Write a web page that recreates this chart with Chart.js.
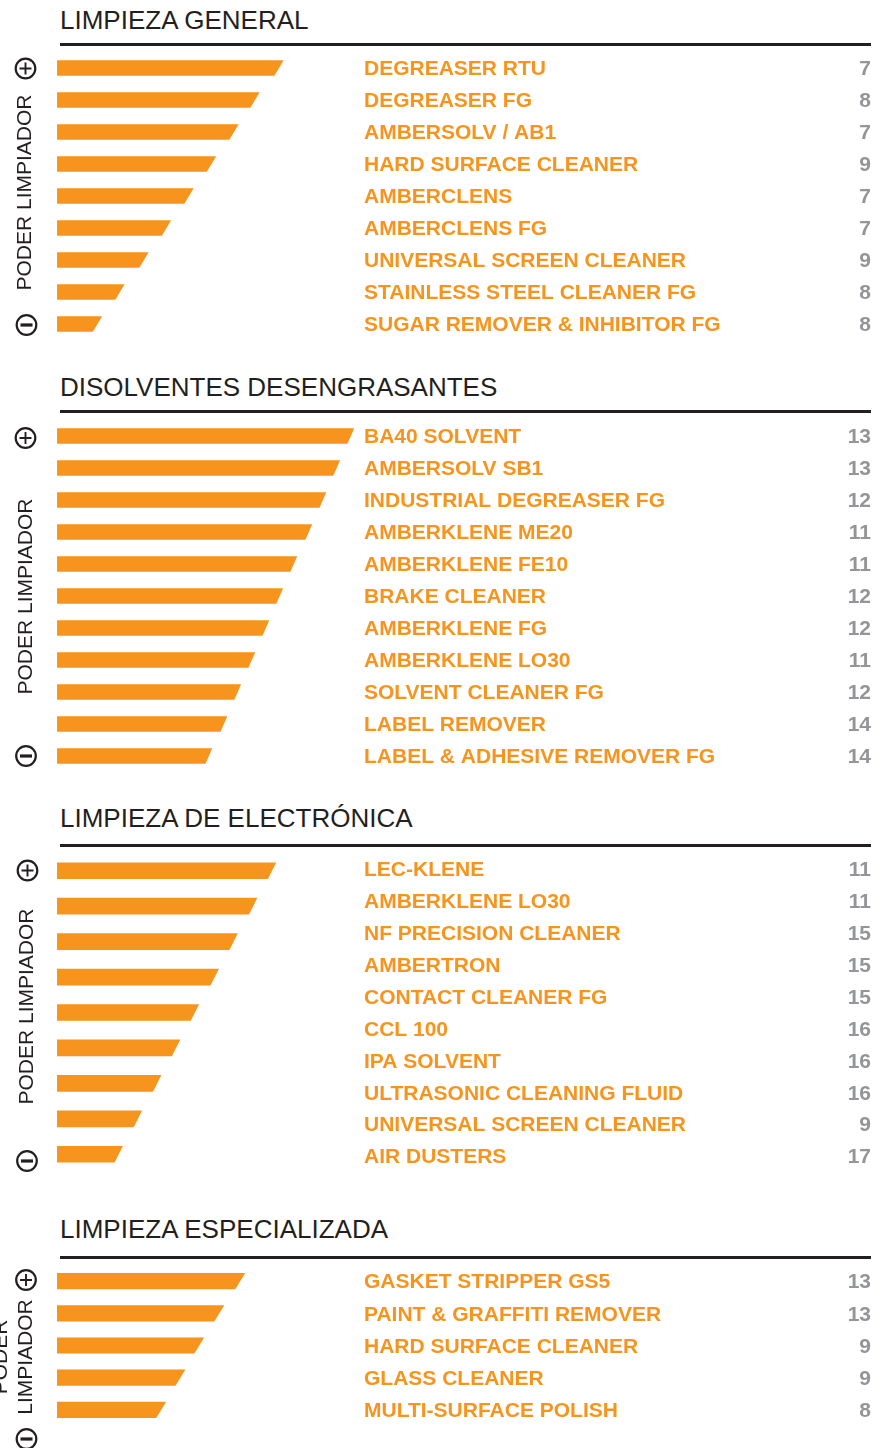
<!DOCTYPE html>
<html>
<head>
<meta charset="utf-8">
<script src="https://cdn.jsdelivr.net/npm/chart.js@4"></script>
<style>
  html, body { margin: 0; padding: 0; background: #fff; }
  body { width: 882px; height: 1448px; position: relative; overflow: hidden; font-family: "Liberation Sans", Arial, Helvetica, sans-serif; }
  .title { position: absolute; left: 60px; font-size: 26px; line-height: 26px; color: #231f20; white-space: nowrap; }
  .rule { position: absolute; left: 60px; width: 811px; height: 3px; background: #231f20; }
  canvas { position: absolute; left: 0; }
</style>
</head>
<body>
<div class="title" style="top:6.5px">LIMPIEZA GENERAL</div>
<div class="rule" style="top:43px"></div>
<canvas id="c1"></canvas>

<div class="title" style="top:373.5px">DISOLVENTES DESENGRASANTES</div>
<div class="rule" style="top:410px"></div>
<canvas id="c2"></canvas>

<div class="title" style="top:804.5px">LIMPIEZA DE ELECTRÓNICA</div>
<div class="rule" style="top:844px"></div>
<canvas id="c3"></canvas>

<div class="title" style="top:1215.5px">LIMPIEZA ESPECIALIZADA</div>
<div class="rule" style="top:1256px"></div>
<canvas id="c4"></canvas>

<script>
// --- data ---
const generalNames = ['DEGREASER RTU', 'DEGREASER FG', 'AMBERSOLV / AB1', 'HARD SURFACE CLEANER', 'AMBERCLENS',
  'AMBERCLENS FG', 'UNIVERSAL SCREEN CLEANER', 'STAINLESS STEEL CLEANER FG', 'SUGAR REMOVER & INHIBITOR FG'];
const generalScores = [7, 8, 7, 9, 7, 7, 9, 8, 8];
const generalPower = [75.5, 67.5, 60.5, 53, 45.5, 38, 30.5, 22.5, 15];

const solventNames = ['BA40 SOLVENT', 'AMBERSOLV SB1', 'INDUSTRIAL DEGREASER FG', 'AMBERKLENE ME20', 'AMBERKLENE FE10',
  'BRAKE CLEANER', 'AMBERKLENE FG', 'AMBERKLENE LO30', 'SOLVENT CLEANER FG', 'LABEL REMOVER', 'LABEL & ADHESIVE REMOVER FG'];
const solventScores = [13, 13, 12, 11, 11, 12, 12, 11, 12, 14, 14];
const solventPower = [99, 94.3, 89.7, 85, 80, 75.3, 70.7, 66, 61.3, 56.7, 51.7];

const electronicsNames = ['LEC-KLENE', 'AMBERKLENE LO30', 'NF PRECISION CLEANER', 'AMBERTRON', 'CONTACT CLEANER FG',
  'CCL 100', 'IPA SOLVENT', 'ULTRASONIC CLEANING FLUID', 'UNIVERSAL SCREEN CLEANER', 'AIR DUSTERS'];
const electronicsScores = [11, 11, 15, 15, 15, 16, 16, 16, 9, 17];
const electronicsPower = [73, 66.7, 60.2, 53.9, 47.3, 41, 34.7, 28.3, 21.9];

const specialNames = ['GASKET STRIPPER GS5', 'PAINT & GRAFFITI REMOVER', 'HARD SURFACE CLEANER', 'GLASS CLEANER', 'MULTI-SURFACE POLISH'];
const specialScores = [13, 13, 9, 9, 8];
const specialPower = [62.7, 55.7, 49, 42.7, 36.3];

const ORANGE = '#f7941d';
const DARK = '#231f20';
const GREY = '#939598';
const FONT = '"Liberation Sans", Arial, Helvetica, sans-serif';

function drawMarker(ctx, x, y, plus) {
  ctx.strokeStyle = DARK;
  ctx.lineWidth = 2.2;
  ctx.beginPath();
  ctx.arc(x, y, 9.8, 0, Math.PI * 2);
  ctx.stroke();
  ctx.beginPath();
  if (plus) {
    ctx.lineWidth = 1.9;
    ctx.moveTo(x - 6, y); ctx.lineTo(x + 6, y);
    ctx.moveTo(x, y - 6); ctx.lineTo(x, y + 6);
  } else {
    ctx.lineWidth = 3.2;
    ctx.moveTo(x - 6, y); ctx.lineTo(x + 6, y);
  }
  ctx.stroke();
}

// cuts the slanted end of each bar, writes product names / scores and the side legend
const rowText = {
  id: 'rowText',
  afterDatasetsDraw(chart, args, opts) {
    const ctx = chart.ctx;
    ctx.save();
    ctx.fillStyle = '#ffffff';
    chart.getDatasetMeta(0).data.forEach(bar => {
      const top = bar.y - bar.height / 2;
      const bottom = bar.y + bar.height / 2;
      const k = opts.slant / bar.height;
      ctx.beginPath();
      ctx.moveTo(bar.x + 0.3, top - 0.5);
      ctx.lineTo(bar.x + 3, top - 0.5);
      ctx.lineTo(bar.x + 3, bottom + 1);
      ctx.lineTo(bar.x - k * (bottom + 1 - top), bottom + 1);
      ctx.closePath();
      ctx.fill();
    });
    ctx.restore();
  },
  afterDraw(chart, args, opts) {
    const ctx = chart.ctx;
    const rows = chart.scales.names;
    ctx.save();
    ctx.font = 'bold 21px ' + FONT;
    ctx.textBaseline = 'middle';
    rows.getLabels().forEach((name, i) => {
      const y = rows.getPixelForValue(i) + 1.5;
      ctx.fillStyle = ORANGE;
      ctx.textAlign = 'left';
      ctx.fillText(name, 364, y);
      ctx.fillStyle = GREY;
      ctx.textAlign = 'right';
      ctx.fillText(String(opts.scores[i]), 871, y);
    });

    // PODER LIMPIADOR, rotated
    ctx.fillStyle = DARK;
    ctx.font = '21px ' + FONT;
    ctx.textAlign = 'center';
    ctx.translate(opts.titleX, opts.titleY);
    ctx.rotate(-Math.PI / 2);
    const lines = opts.title;
    lines.forEach((l, k) => ctx.fillText(l, 0, (k - (lines.length - 1)) * 25.5));
    ctx.restore();

    ctx.save();
    drawMarker(ctx, opts.plus[0], opts.plus[1], true);
    drawMarker(ctx, opts.minus[0], opts.minus[1], false);
    ctx.restore();
  }
};

function makeSection(id, top, height, padTop, padBottom, power, names, scores, style) {
  const canvas = document.getElementById(id);
  canvas.width = 882;
  canvas.height = height;
  canvas.style.top = top + 'px';
  return new Chart(canvas, {
    type: 'bar',
    data: {
      labels: power.map((_, i) => 'nivel ' + (i + 1)),
      datasets: [{
        data: power,
        backgroundColor: ORANGE,
        borderWidth: 0,
        barThickness: style.thickness,
        yAxisID: 'y'
      }]
    },
    options: {
      indexAxis: 'y',
      responsive: false,
      animation: false,
      devicePixelRatio: 1,
      layout: { padding: { left: 57, right: 525, top: padTop, bottom: padBottom } },
      scales: {
        x: { type: 'linear', min: 0, max: 100, display: false },
        y: { type: 'category', offset: true, display: false },
        names: { type: 'category', axis: 'y', position: 'left', labels: names, offset: true, display: false }
      },
      plugins: {
        legend: { display: false },
        tooltip: { enabled: false },
        rowText: {
          scores: scores,
          slant: style.slant,
          title: style.title,
          titleX: style.titleX,
          titleY: style.titleY - top,
          plus: [style.plus[0], style.plus[1] - top],
          minus: [style.minus[0], style.minus[1] - top]
        }
      }
    },
    plugins: [rowText]
  });
}

makeSection('c1', 46, 310, 6, 16, generalPower, generalNames, generalScores,
  { thickness: 15, slant: 9, title: ['PODER LIMPIADOR'], titleX: 25.5, titleY: 192.5, plus: [25.5, 68.5], minus: [26.5, 325] });
makeSection('c2', 414, 371, 6, 13, solventPower, solventNames, solventScores,
  { thickness: 15, slant: 6.5, title: ['PODER LIMPIADOR'], titleX: 26, titleY: 596.5, plus: [25.5, 438], minus: [26, 756] });
makeSection('c3', 848, 347, 5, 23, electronicsPower, electronicsNames, electronicsScores,
  { thickness: 16, slant: 8, title: ['PODER LIMPIADOR'], titleX: 27, titleY: 1006.5, plus: [27.5, 870.5], minus: [27, 1161] });
makeSection('c4', 1260, 188, 5, 22, specialPower, specialNames, specialScores,
  { thickness: 15.5, slant: 9.5, title: ['PODER', 'LIMPIADOR'], titleX: 26.5, titleY: 1357, plus: [26, 1280], minus: [26.5, 1439] });
</script>
</body>
</html>
